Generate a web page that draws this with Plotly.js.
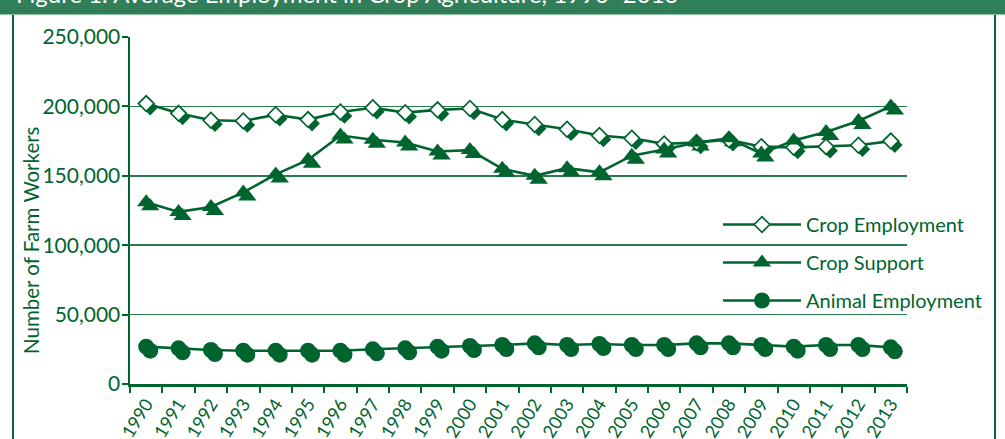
<!DOCTYPE html>
<html>
<head>
<meta charset="utf-8">
<script src="https://cdn.plot.ly/plotly-3.0.1.min.js"></script>
<style>
  html, body { margin:0; padding:0; background:#ffffff; }
  #wrap { position:relative; width:1005px; height:439px; overflow:hidden; background:#fff; }
  #hdr { position:absolute; left:0; top:0; width:1005px; height:14px; background:#317f58; overflow:hidden; border-bottom:1px solid #8cc0a4; }
  #hdr span { position:absolute; left:16px; top:-18px; color:#fff; font-family:Lato, sans-serif; font-size:24px; line-height:24px; white-space:nowrap; }
  #lb { position:absolute; left:12px; top:15px; width:2px; height:430px; background:#006633; }
  #rb { position:absolute; left:994px; top:15px; width:2px; height:430px; background:#006633; }
  #chart { position:absolute; left:0; top:0; width:1005px; height:439px; }
</style>
</head>
<body>
<div id="wrap">
  <div id="hdr"><span>Figure 1. Average Employment in Crop Agriculture, 1990–2013</span></div>
  <div id="lb"></div>
  <div id="rb"></div>
  <div id="chart"></div>
</div>
<script>
const years = ["1990","1991","1992","1993","1994","1995","1996","1997","1998","1999","2000","2001",
               "2002","2003","2004","2005","2006","2007","2008","2009","2010","2011","2012","2013"];
const cropEmployment = [202000,195000,190000,189500,194000,190500,196000,199000,195500,197500,198500,190500,
                        187000,183500,179000,177000,173000,174000,176000,171000,170500,171000,172000,175000];
const cropSupport = [131000,124000,127500,138000,151000,161500,179000,176000,174000,167500,168500,155000,
                     150000,155500,152500,164500,169000,174000,177000,166000,175500,181500,189500,200000];
const animalEmployment = [26900,25700,24500,24000,24000,24000,24000,25000,25700,26900,27400,28100,
                          29300,28100,28800,28100,28100,29300,29300,28100,26900,28100,28100,26400];
const seriesNames = ["Crop Employment","Crop Support","Animal Employment"];
const yTickVals = [0,50000,100000,150000,200000,250000];

const G = '#00642f';
const GRID = '#2a7a4c';
const FONT = 'Lato, "Noto Sans", sans-serif';

// plot area geometry (pixels)
const W = 781, H = 351, SH = 4;

function mainTrace(name, y, sym, fill, size, group){
  return {type:'scatter', mode:'lines+markers', name:name, x:years, y:y, xaxis:'x3', yaxis:'y3',
    line:{color:G, width:2.6}, legendgroup:group,
    marker:{symbol:sym, size:size, color:fill, line:{color:G, width:sym==='diamond'?1.7:0}}};
}
function shadowTrace(y, sym, size){
  return {type:'scatter', mode:'markers', x:years, y:y, xaxis:'x2', yaxis:'y2', showlegend:false, hoverinfo:'skip',
    marker:{symbol:sym, size:size, color:G, line:{width:0}}};
}

const data = [
  {type:'scatter', mode:'markers', x:years, y:cropEmployment, xaxis:'x', yaxis:'y', showlegend:false, hoverinfo:'skip', marker:{opacity:0}},
  shadowTrace(cropEmployment, 'diamond', 12),
  shadowTrace(cropSupport, 'triangle-up', 16),
  shadowTrace(animalEmployment, 'circle', 16),
  mainTrace(seriesNames[0], cropEmployment, 'diamond', '#ffffff', 12, 'a'),
  mainTrace(seriesNames[1], cropSupport, 'triangle-up', G, 16, 'b'),
  mainTrace(seriesNames[2], animalEmployment, 'circle', G, 16, 'c')
];

const hiddenX = {type:'category', range:[-0.5,23.5], showgrid:false, zeroline:false, showline:false, showticklabels:false, ticks:'', fixedrange:true};
const hiddenY = {range:[0,250000], showgrid:false, zeroline:false, showline:false, showticklabels:false, ticks:'', fixedrange:true};

const layout = {
  width:1005, height:439,
  margin:{l:130, r:1005-130-W, t:37, b:439-37-H, pad:0},
  paper_bgcolor:'rgba(0,0,0,0)', plot_bgcolor:'rgba(0,0,0,0)',
  font:{family:FONT, color:G},
  showlegend:true,
  xaxis:{type:'category', range:[-0.5,23.5], domain:[0,(W-SH)/W], anchor:'y',
    tickson:'boundaries', ticks:'outside', ticklen:6, tickwidth:2, tickcolor:G,
    showline:true, linecolor:G, linewidth:2.5, showgrid:false, zeroline:false,
    tickangle:-58, tickfont:{size:18, color:G, family:FONT}, fixedrange:true},
  yaxis:{range:[0,250000], domain:[SH/H,1], anchor:'x', tickvals:yTickVals, tickformat:',d',
    ticks:'outside', ticklen:6, tickwidth:2, tickcolor:G, ticklabelstandoff:-3,
    showline:true, linecolor:G, linewidth:2.5, showgrid:true, gridcolor:GRID, gridwidth:1.5, zeroline:false,
    tickfont:{size:21, color:G, family:FONT}, fixedrange:true},
  xaxis2:Object.assign({}, hiddenX, {domain:[SH/W,1], anchor:'y2'}),
  yaxis2:Object.assign({}, hiddenY, {domain:[0,(H-SH)/H], anchor:'x2'}),
  xaxis3:Object.assign({}, hiddenX, {domain:[0,(W-SH)/W], anchor:'y3'}),
  yaxis3:Object.assign({}, hiddenY, {domain:[SH/H,1], anchor:'x3'}),
  legend:{x:(718-130)/W, xanchor:'left', y:(388-205)/H, yanchor:'top', bgcolor:'rgba(0,0,0,0)',
    font:{size:20, color:G, family:FONT}, itemwidth:78, traceorder:'grouped', tracegroupgap:9},
  annotations:[{xref:'paper', yref:'paper', x:(31-130)/W, y:(388-240)/H, xanchor:'center', yanchor:'middle',
    text:'Number of Farm Workers', textangle:-90, showarrow:false, font:{size:20.5, color:G, family:FONT}}]
};

Plotly.newPlot('chart', data, layout, {displayModeBar:false, staticPlot:true});
</script>
</body>
</html>
